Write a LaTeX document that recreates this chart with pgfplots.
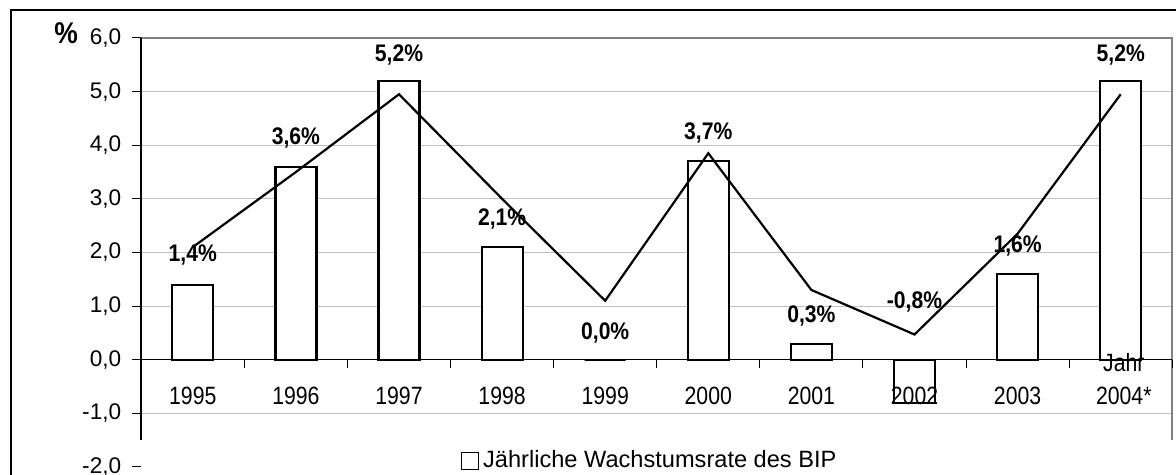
\documentclass[border=0pt]{standalone}
\usepackage{pgfplots}
\pgfplotsset{compat=1.18}
\usepackage{fontspec}
\setmainfont{Liberation Sans}
\newfontfamily\narrowfont[FakeStretch=0.85]{Liberation Sans}
\newfontfamily\lblfont[FakeStretch=0.88]{Liberation Sans}
\definecolor{gridgray}{HTML}{C0C0C0}
\definecolor{bordergray}{HTML}{808080}
\begin{document}
\begin{tikzpicture}[x=0.5pt,y=0.5pt]
\path[use as bounding box] (0,0) rectangle (1176,475);
% outer frame
\draw[black, line width=0.6pt] (11,-10) -- (11,465) -- (1190,465);
\begin{axis}[
  at={(137,15)}, anchor=south west,
  scale only axis, width=515.5pt, height=214.5pt,
  xmin=-0.5, xmax=9.5, ymin=-2, ymax=6,
  clip=false,
  axis line style={draw=none},
  xtick=\empty,
  ytick={-1,0,...,5},
  extra y ticks={-2,6},
  extra y tick style={grid=none},
  ymajorgrids,
  grid style={gridgray, line width=0.5pt},
  tick style={black, line width=0.5pt},
  ytick align=outside, ytick pos=left,
  major tick length=4.5pt,
  yticklabel style={font=\fontsize{11.3}{13}\selectfont, inner ysep=0pt, xshift=-2pt, /pgf/number format/.cd, fixed, fixed zerofill, precision=1, use comma, assume math mode=true},
  legend style={draw=none, fill=none, at={(0.494,0.014)}, anchor=center,
    font=\fontsize{11.8}{13}\selectfont, inner sep=0pt},
  legend image code/.code={\draw[black, line width=0.7pt, fill=white] (0pt,-4.2pt) rectangle (8.5pt,4.2pt);},
  legend cell align=left,
]
% plot area border
\draw[bordergray, line width=1pt] (axis cs:-0.5,6) -- (axis cs:9.5,6) -- (axis cs:9.5,-1.5);
% y axis line
\draw[black, line width=0.8pt] (axis cs:-0.5,6) -- (axis cs:-0.5,-1.5);
\addplot[ybar, bar width=20.5pt, bar shift=0pt, fill=white, draw=black, line width=1.1pt]
  coordinates {(0,1.4) (1,3.6) (2,5.2) (3,2.1) (4,0.0) (5,3.7) (6,0.3) (7,-0.8) (8,1.6) (9,5.2)};
\addlegendentry{Jährliche Wachstumsrate des BIP}
% zero line and category ticks
\draw[black, line width=0.6pt] (axis cs:-0.5,0) -- (axis cs:9.5,0);
\pgfplotsinvokeforeach{0.5,1.5,2.5,3.5,4.5,5.5,6.5,7.5,8.5,9.5}{
  \draw[black, line width=0.5pt] (axis cs:#1,0) -- ++(0pt,-4pt);
}
\addplot[black, line width=1.1pt, mark=none, sharp plot, forget plot]
  coordinates {(0,2.1) (1,3.5) (2,4.95) (3,3.0) (4,1.1) (5,3.85) (6,1.3) (7,0.47) (8,2.35) (9,4.95)};
% value labels
\node[font=\lblfont\bfseries\fontsize{12}{14}\selectfont] at (axis cs:0,1.96) {1,4\%};
\node[font=\lblfont\bfseries\fontsize{12}{14}\selectfont] at (axis cs:1,4.14) {3,6\%};
\node[font=\lblfont\bfseries\fontsize{12}{14}\selectfont] at (axis cs:2,5.69) {5,2\%};
\node[font=\lblfont\bfseries\fontsize{12}{14}\selectfont] at (axis cs:3,2.62) {2,1\%};
\node[font=\lblfont\bfseries\fontsize{12}{14}\selectfont] at (axis cs:4,0.49) {0,0\%};
\node[font=\lblfont\bfseries\fontsize{12}{14}\selectfont] at (axis cs:5,4.22) {3,7\%};
\node[font=\lblfont\bfseries\fontsize{12}{14}\selectfont] at (axis cs:6,0.82) {0,3\%};
\node[font=\lblfont\bfseries\fontsize{12}{14}\selectfont] at (axis cs:7,1.08) {-0,8\%};
\node[font=\lblfont\bfseries\fontsize{12}{14}\selectfont] at (axis cs:8,2.12) {1,6\%};
\node[font=\lblfont\bfseries\fontsize{12}{14}\selectfont] at (axis cs:9,5.69) {5,2\%};
% category labels
\node[font=\narrowfont\fontsize{12.5}{14}\selectfont] at (axis cs:0,-0.67) {1995};
\node[font=\narrowfont\fontsize{12.5}{14}\selectfont] at (axis cs:1,-0.67) {1996};
\node[font=\narrowfont\fontsize{12.5}{14}\selectfont] at (axis cs:2,-0.67) {1997};
\node[font=\narrowfont\fontsize{12.5}{14}\selectfont] at (axis cs:3,-0.67) {1998};
\node[font=\narrowfont\fontsize{12.5}{14}\selectfont] at (axis cs:4,-0.67) {1999};
\node[font=\narrowfont\fontsize{12.5}{14}\selectfont] at (axis cs:5,-0.67) {2000};
\node[font=\narrowfont\fontsize{12.5}{14}\selectfont] at (axis cs:6,-0.67) {2001};
\node[font=\narrowfont\fontsize{12.5}{14}\selectfont] at (axis cs:7,-0.67) {2002};
\node[font=\narrowfont\fontsize{12.5}{14}\selectfont] at (axis cs:8,-0.67) {2003};
\node[font=\narrowfont\fontsize{12.5}{14}\selectfont] at (axis cs:9.03,-0.67) {2004*};
\node[font=\narrowfont\fontsize{12.5}{14}\selectfont] at (axis cs:9.03,-0.06) {Jahr};
\end{axis}
\node[font=\lblfont\bfseries\fontsize{15}{17}\selectfont] at (66,442) {\%};
\end{tikzpicture}
\end{document}
